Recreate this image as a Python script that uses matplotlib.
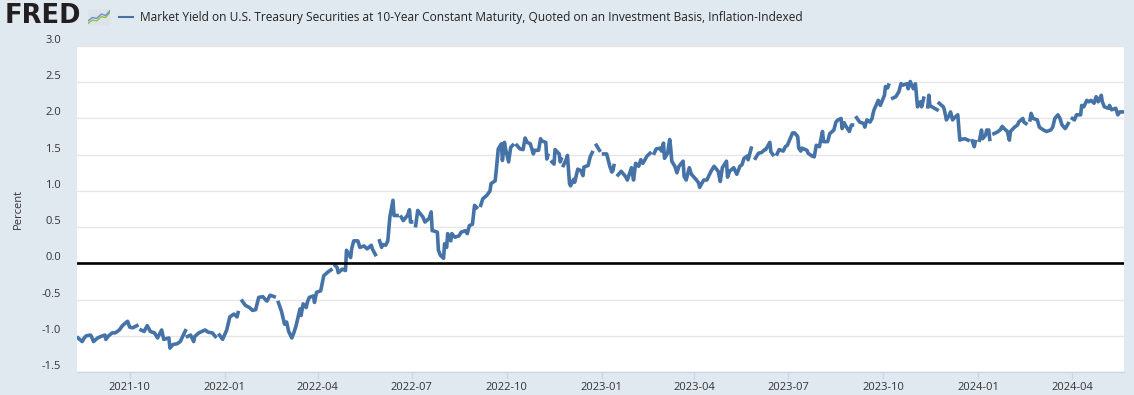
import numpy as np
import pandas as pd
import matplotlib
matplotlib.use("Agg")
import matplotlib.pyplot as plt
import matplotlib.dates as mdates
from matplotlib.lines import Line2D

plt.rcParams['font.family'] = ['Open Sans', 'DejaVu Sans']
plt.rcParams['axes.unicode_minus'] = False

NaN = np.nan

# --- 10-year TIPS yield (percent) ---
dates_2021 = ["2021-08-12", "2021-08-16", "2021-08-18", "2021-08-20", "2021-08-24", "2021-08-25",
              "2021-08-27", "2021-08-31", "2021-09-03", "2021-09-07", "2021-09-08", "2021-09-10",
              "2021-09-14", "2021-09-17", "2021-09-21", "2021-09-24", "2021-09-29", "2021-10-01",
              "2021-10-04", "2021-10-08", "2021-10-11", "2021-10-12", "2021-10-15", "2021-10-18",
              "2021-10-21", "2021-10-25", "2021-10-28", "2021-11-01", "2021-11-03", "2021-11-08",
              "2021-11-09", "2021-11-12", "2021-11-16", "2021-11-19", "2021-11-24", "2021-11-25",
              "2021-11-26", "2021-11-29", "2021-12-02", "2021-12-03", "2021-12-07", "2021-12-10",
              "2021-12-13", "2021-12-16", "2021-12-20", "2021-12-23", "2021-12-24", "2021-12-27",
              "2021-12-30"]
vals_2021 = [-1.03, -1.08, -1.03, -1.00, -0.99, -1.01,
             -1.08, -1.03, -1.01, -0.99, -1.05, -1.01,
             -0.96, -0.96, -0.92, -0.86, -0.80, -0.88,
             -0.89, -0.86, NaN, -0.92, -0.94, -0.86,
             -0.94, -0.96, -1.03, -0.92, -1.05, -1.03,
             -1.17, -1.12, -1.11, -1.08, -0.93, NaN,
             -1.01, -0.99, -1.08, -1.01, -0.96, -0.94,
             -0.92, -0.95, -0.96, -1.01, NaN, -0.99,
             -1.05]

dates_2022 = ["2022-01-03", "2022-01-06", "2022-01-10", "2022-01-13", "2022-01-14", "2022-01-17",
              "2022-01-18", "2022-01-21", "2022-01-25", "2022-01-28", "2022-01-31", "2022-02-03",
              "2022-02-07", "2022-02-10", "2022-02-11", "2022-02-14", "2022-02-18", "2022-02-21",
              "2022-02-22", "2022-02-25", "2022-02-28", "2022-03-02", "2022-03-04", "2022-03-07",
              "2022-03-09", "2022-03-11", "2022-03-15", "2022-03-16", "2022-03-18", "2022-03-21",
              "2022-03-22", "2022-03-24", "2022-03-28", "2022-03-29", "2022-03-31", "2022-04-04",
              "2022-04-07", "2022-04-11", "2022-04-14", "2022-04-15", "2022-04-18", "2022-04-20",
              "2022-04-21", "2022-04-25", "2022-04-28", "2022-04-29", "2022-05-03", "2022-05-04",
              "2022-05-06", "2022-05-10", "2022-05-12", "2022-05-16", "2022-05-19", "2022-05-23",
              "2022-05-24", "2022-05-27", "2022-05-30", "2022-05-31", "2022-06-02", "2022-06-03",
              "2022-06-06", "2022-06-08", "2022-06-10", "2022-06-13", "2022-06-14", "2022-06-17",
              "2022-06-20", "2022-06-21", "2022-06-23", "2022-06-27", "2022-06-29", "2022-06-30",
              "2022-07-01", "2022-07-04", "2022-07-05", "2022-07-07", "2022-07-08", "2022-07-12",
              "2022-07-14", "2022-07-18", "2022-07-20", "2022-07-21", "2022-07-22", "2022-07-26",
              "2022-07-27", "2022-07-29", "2022-08-01", "2022-08-02", "2022-08-04", "2022-08-05",
              "2022-08-08", "2022-08-09", "2022-08-12", "2022-08-16", "2022-08-18", "2022-08-22",
              "2022-08-24", "2022-08-26", "2022-08-29", "2022-08-31", "2022-09-02", "2022-09-05",
              "2022-09-06", "2022-09-08", "2022-09-12", "2022-09-15", "2022-09-16", "2022-09-20",
              "2022-09-21", "2022-09-23", "2022-09-26", "2022-09-27", "2022-09-29", "2022-09-30",
              "2022-10-03", "2022-10-05", "2022-10-07", "2022-10-10", "2022-10-11", "2022-10-14",
              "2022-10-17", "2022-10-19", "2022-10-21", "2022-10-24", "2022-10-27", "2022-10-28",
              "2022-11-01", "2022-11-03", "2022-11-04", "2022-11-08", "2022-11-09", "2022-11-10",
              "2022-11-11", "2022-11-14", "2022-11-16", "2022-11-17", "2022-11-21", "2022-11-22",
              "2022-11-23", "2022-11-24", "2022-11-25", "2022-11-28", "2022-11-29", "2022-12-01",
              "2022-12-02", "2022-12-05", "2022-12-06", "2022-12-09", "2022-12-12", "2022-12-14",
              "2022-12-15", "2022-12-19", "2022-12-21", "2022-12-23", "2022-12-26", "2022-12-27",
              "2022-12-30"]
vals_2022 = [-0.92, -0.74, -0.70, -0.74, -0.68, NaN,
             -0.52, -0.58, -0.61, -0.65, -0.64, -0.47,
             -0.46, -0.51, -0.52, -0.44, -0.46, NaN,
             -0.54, -0.66, -0.84, -0.81, -0.94, -1.03,
             -0.96, -0.87, -0.63, -0.72, -0.56, -0.61,
             -0.54, -0.47, -0.45, -0.54, -0.40, -0.38,
             -0.17, -0.12, -0.09, NaN, -0.03, -0.06,
             -0.13, -0.08, -0.10, 0.18, 0.08, 0.20,
             0.31, 0.31, 0.22, 0.24, 0.20, 0.25,
             0.20, 0.12, NaN, 0.31, 0.22, 0.26,
             0.25, 0.31, 0.64, 0.87, 0.66, 0.66,
             NaN, 0.64, 0.59, 0.66, 0.74, 0.57,
             0.57, NaN, 0.52, 0.73, 0.71, 0.64,
             0.57, 0.62, 0.71, 0.45, 0.45, 0.43,
             0.18, 0.11, 0.07, 0.27, 0.22, 0.41,
             0.31, 0.41, 0.36, 0.38, 0.43, 0.45,
             0.41, 0.52, 0.54, 0.80, 0.77, NaN,
             0.80, 0.89, 0.94, 1.00, 1.10, 1.14,
             1.28, 1.58, 1.65, 1.42, 1.67, 1.58,
             1.40, 1.60, 1.63, NaN, 1.63, 1.58,
             1.57, 1.73, 1.67, 1.65, 1.51, 1.56,
             1.56, 1.72, 1.69, 1.67, 1.44, 1.49,
             NaN, 1.40, 1.37, 1.57, 1.51, 1.40,
             1.44, NaN, 1.35, 1.44, 1.49, 1.10,
             1.07, 1.16, 1.12, 1.30, 1.28, 1.21,
             1.33, 1.35, 1.47, 1.53, NaN, 1.63,
             1.56]

dates_2023 = ["2023-01-02", "2023-01-03", "2023-01-06", "2023-01-09", "2023-01-10", "2023-01-11",
              "2023-01-12", "2023-01-13", "2023-01-16", "2023-01-17", "2023-01-20", "2023-01-23",
              "2023-01-25", "2023-01-26", "2023-01-30", "2023-02-01", "2023-02-03", "2023-02-06",
              "2023-02-08", "2023-02-10", "2023-02-14", "2023-02-17", "2023-02-20", "2023-02-21",
              "2023-02-23", "2023-02-27", "2023-02-28", "2023-03-02", "2023-03-03", "2023-03-06",
              "2023-03-08", "2023-03-09", "2023-03-10", "2023-03-13", "2023-03-15", "2023-03-17",
              "2023-03-21", "2023-03-22", "2023-03-24", "2023-03-27", "2023-03-29", "2023-04-03",
              "2023-04-05", "2023-04-06", "2023-04-10", "2023-04-13", "2023-04-17", "2023-04-20",
              "2023-04-24", "2023-04-26", "2023-04-28", "2023-05-02", "2023-05-03", "2023-05-05",
              "2023-05-09", "2023-05-12", "2023-05-15", "2023-05-17", "2023-05-19", "2023-05-22",
              "2023-05-23", "2023-05-26", "2023-05-29", "2023-05-30", "2023-06-02", "2023-06-05",
              "2023-06-08", "2023-06-09", "2023-06-13", "2023-06-14", "2023-06-16", "2023-06-19",
              "2023-06-20", "2023-06-22", "2023-06-26", "2023-06-28", "2023-06-30", "2023-07-05",
              "2023-07-07", "2023-07-10", "2023-07-11", "2023-07-13", "2023-07-14", "2023-07-19",
              "2023-07-20", "2023-07-24", "2023-07-26", "2023-07-28", "2023-07-31", "2023-08-03",
              "2023-08-04", "2023-08-08", "2023-08-10", "2023-08-14", "2023-08-16", "2023-08-18",
              "2023-08-21", "2023-08-22", "2023-08-24", "2023-08-25", "2023-08-29", "2023-08-31",
              "2023-09-01", "2023-09-04", "2023-09-05", "2023-09-08", "2023-09-12", "2023-09-13",
              "2023-09-15", "2023-09-18", "2023-09-20", "2023-09-21", "2023-09-22", "2023-09-26",
              "2023-09-28", "2023-10-02", "2023-10-03", "2023-10-05", "2023-10-06", "2023-10-09",
              "2023-10-10", "2023-10-13", "2023-10-16", "2023-10-18", "2023-10-20", "2023-10-24",
              "2023-10-25", "2023-10-27", "2023-10-30", "2023-11-01", "2023-11-03", "2023-11-06",
              "2023-11-07", "2023-11-09", "2023-11-10", "2023-11-13", "2023-11-14", "2023-11-15",
              "2023-11-17", "2023-11-22", "2023-11-23", "2023-11-24", "2023-11-28", "2023-11-29",
              "2023-12-01", "2023-12-04", "2023-12-05", "2023-12-07", "2023-12-08", "2023-12-12",
              "2023-12-14", "2023-12-15", "2023-12-19", "2023-12-22", "2023-12-25", "2023-12-26",
              "2023-12-28", "2023-12-29"]
vals_2023 = [NaN, 1.51, 1.51, 1.34, 1.30, 1.26,
             1.28, 1.35, NaN, 1.22, 1.27, 1.22,
             1.18, 1.15, 1.32, 1.15, 1.38, 1.34,
             1.43, 1.38, 1.48, 1.52, NaN, 1.52,
             1.58, 1.59, 1.55, 1.66, 1.45, 1.52,
             1.71, 1.59, 1.41, 1.34, 1.25, 1.34,
             1.41, 1.20, 1.15, 1.32, 1.23, 1.15,
             1.11, 1.05, 1.15, 1.15, 1.27, 1.34,
             1.27, 1.13, 1.32, 1.41, 1.19, 1.27,
             1.32, 1.23, 1.34, 1.36, 1.45, 1.48,
             1.43, 1.59, NaN, 1.45, 1.52, 1.53,
             1.57, 1.57, 1.67, 1.54, 1.50, NaN,
             1.51, 1.57, 1.55, 1.61, 1.63, 1.80,
             1.80, 1.75, 1.59, 1.55, 1.59, 1.56,
             1.52, 1.48, 1.47, 1.63, 1.61, 1.82,
             1.68, 1.68, 1.79, 1.84, 1.95, 1.98,
             2.00, 1.86, 1.94, 1.91, 1.82, 1.91,
             1.91, NaN, 2.01, 1.95, 1.93, 1.88,
             1.98, 1.95, 2.00, 2.07, 2.12, 2.25,
             2.18, 2.32, 2.44, 2.42, 2.46, NaN,
             2.28, 2.30, 2.37, 2.48, 2.46, 2.48,
             2.41, 2.51, 2.41, 2.48, 2.16, 2.23,
             2.16, 2.28, NaN, 2.16, 2.32, 2.18,
             2.16, 2.12, NaN, 2.21, 2.16, 2.12,
             1.98, 2.05, 2.09, 1.98, 2.00, 2.05,
             1.70, 1.71, 1.72, 1.70, NaN, 1.69,
             1.61, 1.68]

dates_2024 = ["2024-01-01", "2024-01-02", "2024-01-04", "2024-01-05", "2024-01-08", "2024-01-09",
              "2024-01-11", "2024-01-12", "2024-01-15", "2024-01-16", "2024-01-19", "2024-01-22",
              "2024-01-24", "2024-01-26", "2024-01-29", "2024-01-31", "2024-02-01", "2024-02-05",
              "2024-02-08", "2024-02-09", "2024-02-13", "2024-02-14", "2024-02-16", "2024-02-19",
              "2024-02-20", "2024-02-21", "2024-02-23", "2024-02-27", "2024-02-29", "2024-03-04",
              "2024-03-07", "2024-03-11", "2024-03-13", "2024-03-15", "2024-03-18", "2024-03-20",
              "2024-03-22", "2024-03-25", "2024-03-26", "2024-03-28", "2024-03-29", "2024-04-01",
              "2024-04-03", "2024-04-05", "2024-04-09", "2024-04-10", "2024-04-12", "2024-04-15",
              "2024-04-17", "2024-04-19", "2024-04-22", "2024-04-24", "2024-04-26", "2024-04-29",
              "2024-04-30", "2024-05-02", "2024-05-06", "2024-05-07", "2024-05-09", "2024-05-13",
              "2024-05-15", "2024-05-17", "2024-05-20"]
vals_2024 = [NaN, 1.70, 1.84, 1.72, 1.77, 1.84,
             1.84, 1.71, NaN, 1.79, 1.81, 1.84,
             1.89, 1.86, 1.82, 1.70, 1.82, 1.88,
             1.91, 1.95, 2.00, 1.95, 1.93, NaN,
             1.98, 2.07, 2.00, 1.98, 1.88, 1.84,
             1.82, 1.84, 1.88, 2.00, 2.05, 2.00,
             1.91, 1.86, 1.88, 1.93, NaN, 2.00,
             1.98, 2.05, 2.05, 2.18, 2.16, 2.25,
             2.23, 2.25, 2.21, 2.30, 2.23, 2.32,
             2.23, 2.16, 2.14, 2.18, 2.12, 2.14,
             2.05, 2.09, 2.09]

x_start, x_end = "2021-08-11", "2024-05-21"
y_ticks = [-1.5, -1.0, -0.5, 0.0, 0.5, 1.0, 1.5, 2.0, 2.5, 3.0]
series_name = ("Market Yield on U.S. Treasury Securities at 10-Year Constant Maturity, "
               "Quoted on an Investment Basis, Inflation-Indexed")

# little FRED chart icon (decoration)
icon_green = [0.15, 0.35, 0.30, 0.55, 0.50, 0.80]
icon_blue = [0.30, 0.50, 0.45, 0.70, 0.62, 0.90]

dates = pd.to_datetime(dates_2021 + dates_2022 + dates_2023 + dates_2024)
yields = np.array(vals_2021 + vals_2022 + vals_2023 + vals_2024, dtype=float)

BG = "#e1e9f0"
LINE = "#4572a7"
TXT = "#333333"

W, H = 1134, 395
fig = plt.figure(figsize=(W / 100, H / 100), dpi=100, facecolor=BG)
ax = fig.add_axes([77 / W, (H - 372) / H, (1124 - 77) / W, (372 - 46) / H])
ax.set_facecolor("white")

ax.plot(dates, yields, color=LINE, lw=2.6, solid_joinstyle="round", zorder=3)
ax.axhline(0, color="black", lw=1.9, zorder=4)

ax.set_xlim(pd.Timestamp(x_start), pd.Timestamp(x_end))
ax.set_ylim(-1.5, 3.0)
ax.set_yticks(y_ticks)
ax.set_yticklabels([f"{v:.1f}" for v in y_ticks])
ax.grid(axis="y", color="#e6e6e6", lw=1, zorder=0)

ax.xaxis.set_major_locator(mdates.MonthLocator(bymonth=[1, 4, 7, 10]))
ax.xaxis.set_major_formatter(mdates.DateFormatter("%Y-%m"))

for s in ["top", "right", "left"]:
    ax.spines[s].set_visible(False)
ax.spines["bottom"].set_color("#ccd6eb")
ax.spines["bottom"].set_linewidth(1)

ax.tick_params(axis="y", length=0, pad=11.5, labelsize=8, labelcolor=TXT)
ax.tick_params(axis="x", length=5, width=1, color="#ccd6eb", pad=2.5, labelsize=8, labelcolor=TXT)
for lab in ax.get_yticklabels():
    lab.set_va("bottom")

ax.set_ylabel("Percent", fontsize=8, color=TXT)
ax.yaxis.set_label_coords(-0.051, 0.5)

# header: FRED logo + legend
fig.text(5 / W, 1 - 16 / H, "FRED", fontsize=18.5, fontweight="black",
         family="DejaVu Sans", color="#231f20", va="center", ha="left")
iax = fig.add_axes([88 / W, 1 - 26 / H, 22 / W, 17 / H])
iax.set_facecolor("#dde3e8")
iax.plot(range(len(icon_green)), icon_green, color="#8dc63f", lw=1)
iax.plot(range(len(icon_blue)), icon_blue, color="#6d8fc9", lw=1)
iax.set_xlim(0, len(icon_green) - 1)
iax.set_ylim(0, 1)
iax.set_xticks([])
iax.set_yticks([])
for s in iax.spines.values():
    s.set_visible(False)

fig.add_artist(Line2D([119 / W, 133 / W], [1 - 17 / H, 1 - 17 / H], color=LINE, lw=1.5))
fig.text(140 / W, 1 - 17 / H, series_name, fontsize=8.55, color="#222222", va="center", ha="left")

fig.savefig("out.png", dpi=100, facecolor=BG)
